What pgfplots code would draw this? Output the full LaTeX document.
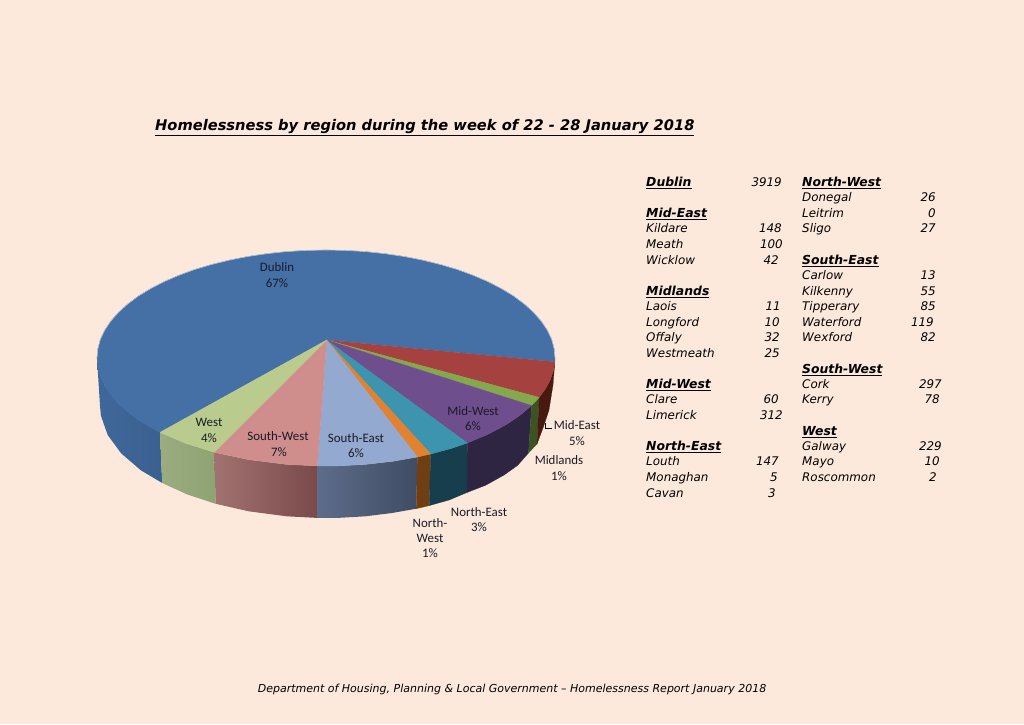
\documentclass[border=0pt]{standalone}
\usepackage{fontspec}
\setmainfont{DejaVu Sans}
\newfontfamily\lab{Carlito}
\usepackage{pgfplots}
\pgfplotsset{compat=1.18}

\definecolor{bg}{HTML}{FCE9DB}
% top faces
\definecolor{tDublin}{HTML}{4470A6}
\definecolor{tMidEast}{HTML}{A5423F}
\definecolor{tMidlands}{HTML}{86A84C}
\definecolor{tMidWest}{HTML}{6F4E8E}
\definecolor{tNorthEast}{HTML}{3D94AE}
\definecolor{tNorthWest}{HTML}{E0822F}
\definecolor{tSouthEast}{HTML}{94A9CF}
\definecolor{tSouthWest}{HTML}{CF8D8C}
\definecolor{tWest}{HTML}{B9CC8E}
% side walls
\definecolor{sDublinL}{HTML}{3F689A}
\definecolor{sDublinR}{HTML}{3A6090}
\definecolor{sWestL}{HTML}{9BAC80}
\definecolor{sWestR}{HTML}{8EA372}
\definecolor{sSouthWestL}{HTML}{A07270}
\definecolor{sSouthWestR}{HTML}{7A4A4A}
\definecolor{sSouthEastL}{HTML}{5D6C8A}
\definecolor{sSouthEastR}{HTML}{3F4C63}
\definecolor{sNorthWest}{HTML}{6F3E12}
\definecolor{sNorthEast}{HTML}{173E4C}
\definecolor{sMidWest}{HTML}{2D2541}
\definecolor{sMidlands}{HTML}{3E5324}
\definecolor{sMidEast}{HTML}{48190F}
\definecolor{rimline}{HTML}{B8C4D6}
\definecolor{labtxt}{HTML}{1A1A28}

% table rows: y, text / y, x of right edge, number
\newcommand{\headA}[2]{\node[anchor=mid west,inner sep=0pt,yshift=-2pt,font=\fontsize{12.4}{15}\selectfont] at (axis cs:646,#1) {\underline{\bfseries\itshape #2}};}
\newcommand{\headB}[2]{\node[anchor=mid west,inner sep=0pt,yshift=-2pt,font=\fontsize{12.4}{15}\selectfont] at (axis cs:802,#1) {\underline{\bfseries\itshape #2}};}
\newcommand{\nameA}[2]{\node[anchor=mid west,inner sep=0pt,yshift=-1.5pt,font=\fontsize{11.9}{15}\selectfont] at (axis cs:646,#1) {\itshape #2};}
\newcommand{\nameB}[2]{\node[anchor=mid west,inner sep=0pt,yshift=-1.5pt,font=\fontsize{11.9}{15}\selectfont] at (axis cs:802,#1) {\itshape #2};}
\newcommand{\val}[3]{\node[anchor=mid east,inner sep=0pt,yshift=-1.5pt,font=\fontsize{11.9}{15}\selectfont] at (axis cs:#2,#1) {\itshape #3};}
\newcommand{\slab}[3]{\node[inner sep=0pt,text=labtxt,font=\lab\fontsize{12.9}{14}\selectfont] at (axis cs:#1,#2) {#3};}

\begin{document}
\begin{tikzpicture}
\begin{axis}[
  width=1024pt, height=724pt, scale only axis,
  xmin=0, xmax=1024, ymin=0, ymax=724, y dir=reverse,
  hide axis, clip=false,
]
\addplot[fill=bg,draw=none] coordinates {(0,0) (1024,0) (1024,724) (0,724)} --cycle;

% side walls
\addplot[draw=none,left color=sDublinL,right color=sDublinR] coordinates {
  (160,432.3) (138.4,420) (118.5,403.7) (104.8,386) (97.9,367.4) (97,358)
  (100,406) (100.9,415.7) (107.7,435) (121.2,453.4) (140.9,470.3) (162.2,483)} --cycle;
\addplot[draw=none,left color=sWestL,right color=sWestR] coordinates {
  (160,432.3) (185,443.1) (214.2,452.3) (215.7,503.8) (186.8,494.3) (162.2,483)} --cycle;
\addplot[draw=none,left color=sSouthWestL,right color=sSouthWestR] coordinates {
  (214.2,452.3) (247.7,459.5) (286.2,464.4) (317.3,465.9)
  (317.4,517.9) (286.7,516.3) (248.7,511.3) (215.7,503.8)} --cycle;
\addplot[draw=none,left color=sSouthEastL,right color=sSouthEastR] coordinates {
  (317.3,465.9) (337.9,465.9) (365.8,464.4) (392.9,461.3) (417.4,457)
  (416.2,508.7) (392,513) (365.3,516.3) (337.8,517.9) (317.4,517.9)} --cycle;
\addplot[fill=sNorthWest,draw=sNorthWest,line width=.2pt] coordinates {
  (417.4,457) (430.7,454) (429.3,505.6) (416.2,508.7)} --cycle;
\addplot[fill=sNorthEast,draw=sNorthEast,line width=.2pt] coordinates {
  (430.7,454) (450.8,448.6) (467.3,443) (467,492.5) (449.2,500) (429.3,505.6)} --cycle;
\addplot[fill=sMidWest,draw=sMidWest,line width=.2pt] coordinates {
  (467.3,443) (487.9,434.4) (506.5,424.5) (520.2,415.2) (531.6,405.5)
  (528.5,453) (517.6,465.4) (504.1,475) (485.8,485.2) (467,492.5)} --cycle;
\addplot[fill=sMidlands,draw=sMidlands,line width=.2pt] coordinates {
  (531.6,405.5) (539.2,397.4) (537,444) (528.5,453)} --cycle;
\addplot[fill=sMidEast,draw=sMidEast,line width=.2pt] coordinates {
  (539.2,397.4) (545,389.6) (550,380.5) (553.3,371.2) (554.9,361.8)
  (553,385) (549,410) (543,428) (537,444)} --cycle;

% top faces
\addplot[fill=tDublin,draw=tDublin,line width=.2pt] coordinates {
  (326.7,340) (554.9,361.8) (555,358) (554.1,348.6) (551.6,339.2) (547.2,330) (541.2,321.1)
  (533.5,312.3) (524.3,304) (513.6,296) (501.4,288.6) (487.9,281.6) (473.2,275.3)
  (457.4,269.5) (440.5,264.5) (422.9,260.2) (404.3,256.5) (385.3,253.7) (365.8,251.6)
  (345.9,250.4) (326,250) (306.1,250.4) (286.2,251.6) (266.7,253.7) (247.7,256.5)
  (229.1,260.2) (211.5,264.5) (194.6,269.5) (178.8,275.3) (164.1,281.6) (150.6,288.6)
  (138.4,296) (127.7,304) (118.5,312.3) (110.8,321.1) (104.8,330) (100.4,339.2)
  (97.9,348.6) (97,358) (97.9,367.4) (100.4,376.8) (104.8,386) (110.7,394.9) (118.5,403.7)
  (127.7,412) (138.4,420) (150.6,427.4) (160,432.3)} --cycle;
\addplot[fill=tMidEast,draw=tMidEast,line width=.2pt] coordinates {
  (326.7,340) (554.9,361.8) (553.3,371.2) (550,380.5) (545,389.6) (539.2,397.4)} --cycle;
\addplot[fill=tMidlands,draw=tMidlands,line width=.2pt] coordinates {
  (326.7,340) (539.2,397.4) (531.6,405.5)} --cycle;
\addplot[fill=tMidWest,draw=tMidWest,line width=.2pt] coordinates {
  (326.7,340) (531.6,405.5) (520.2,415.2) (506.5,424.5) (487.9,434.4) (467.3,443)} --cycle;
\addplot[fill=tNorthEast,draw=tNorthEast,line width=.2pt] coordinates {
  (326.7,340) (467.3,443) (450.8,448.6) (430.7,454)} --cycle;
\addplot[fill=tNorthWest,draw=tNorthWest,line width=.2pt] coordinates {
  (326.7,340) (430.7,454) (417.4,457)} --cycle;
\addplot[fill=tSouthEast,draw=tSouthEast,line width=.2pt] coordinates {
  (326.7,340) (417.4,457) (392.9,461.3) (365.8,464.4) (337.9,465.9) (317.3,465.9)} --cycle;
\addplot[fill=tSouthWest,draw=tSouthWest,line width=.2pt] coordinates {
  (326.7,340) (317.3,465.9) (286.2,464.4) (247.7,459.5) (214.2,452.3)} --cycle;
\addplot[fill=tWest,draw=tWest,line width=.2pt] coordinates {
  (326.7,340) (214.2,452.3) (185,443.1) (160,432.3)} --cycle;

% pale edge on the far rim
\addplot[draw=rimline,line width=.6pt,line join=round] coordinates {
  (97,358) (97.9,348.6) (100.4,339.2) (104.8,330) (110.8,321.1) (118.5,312.3) (127.7,304)
  (138.4,296) (150.6,288.6) (164.1,281.6) (178.8,275.3) (194.6,269.5) (211.5,264.5)
  (229.1,260.2) (247.7,256.5) (266.7,253.7) (286.2,251.6) (306.1,250.4) (326,250)
  (345.9,250.4) (365.8,251.6) (385.3,253.7) (404.3,256.5) (422.9,260.2) (440.5,264.5)
  (457.4,269.5) (473.2,275.3) (487.9,281.6) (501.4,288.6) (513.6,296) (524.3,304)
  (533.5,312.3) (541.2,321.1) (547.2,330) (551.6,339.2) (554.1,348.6) (555,358)};

% leader line of Mid-East
\addplot[draw=black,line width=1pt] coordinates {(545,423) (545,428.3) (552,428.3)};

% pie labels
\slab{277}{267}{Dublin}\slab{277}{283}{67\%}
\slab{209}{422}{West}\slab{209}{438}{4\%}
\slab{278}{436}{South-West}\slab{279}{452}{7\%}
\slab{356}{438}{South-East}\slab{356}{453}{6\%}
\slab{473}{411}{Mid-West}\slab{473}{426}{6\%}
\slab{577}{425}{Mid-East}\slab{577}{441}{5\%}
\slab{559}{460}{Midlands}\slab{559}{476}{1\%}
\slab{479}{512}{North-East}\slab{479}{527}{3\%}
\slab{430}{523}{North-}\slab{430}{538}{West}\slab{430}{553}{1\%}

% title and footer
\node[font=\fontsize{14.67}{18}\selectfont\bfseries\itshape,inner sep=0pt,anchor=mid west] at (axis cs:155,128)
  {\underline{Homelessness by region during the week of 22 - 28 January 2018}};
\node[font=\fontsize{11}{14}\selectfont\itshape,inner sep=0pt] at (axis cs:512,689)
  {Department of Housing, Planning \& Local Government -- Homelessness Report January 2018};

% county table
\headA{182}{Dublin}\val{182}{782}{3919}
\headA{213}{Mid-East}
\nameA{228.5}{Kildare}\val{228.5}{782}{148}
\nameA{244}{Meath}\val{244}{783}{100}
\nameA{260}{Wicklow}\val{260}{779}{42}
\headA{291}{Midlands}
\nameA{306.5}{Laois}\val{306.5}{781}{11}
\nameA{322}{Longford}\val{322}{780}{10}
\nameA{337.5}{Offaly}\val{337.5}{780}{32}
\nameA{353}{Westmeath}\val{353}{780}{25}
\headA{384}{Mid-West}
\nameA{399.5}{Clare}\val{399.5}{779}{60}
\nameA{415}{Limerick}\val{415}{783}{312}
\headA{446}{North-East}
\nameA{461}{Louth}\val{461}{779}{147}
\nameA{477}{Monaghan}\val{477}{778}{5}
\nameA{493}{Cavan}\val{493}{776}{3}
\headB{182}{North-West}
\nameB{197.5}{Donegal}\val{197.5}{936}{26}
\nameB{213}{Leitrim}\val{213}{936}{0}
\nameB{228.5}{Sligo}\val{228.5}{936}{27}
\headB{260}{South-East}
\nameB{275}{Carlow}\val{275}{936}{13}
\nameB{291}{Kilkenny}\val{291}{936}{55}
\nameB{306.5}{Tipperary}\val{306.5}{936}{85}
\nameB{322}{Waterford}\val{322}{934}{119}
\nameB{337.5}{Wexford}\val{337.5}{936}{82}
\headB{368.5}{South-West}
\nameB{384}{Cork}\val{384}{942}{297}
\nameB{399.5}{Kerry}\val{399.5}{940}{78}
\headB{430.5}{West}
\nameB{446}{Galway}\val{446}{942}{229}
\nameB{461}{Mayo}\val{461}{940}{10}
\nameB{477}{Roscommon}\val{477}{937}{2}
\end{axis}
\end{tikzpicture}
\end{document}
